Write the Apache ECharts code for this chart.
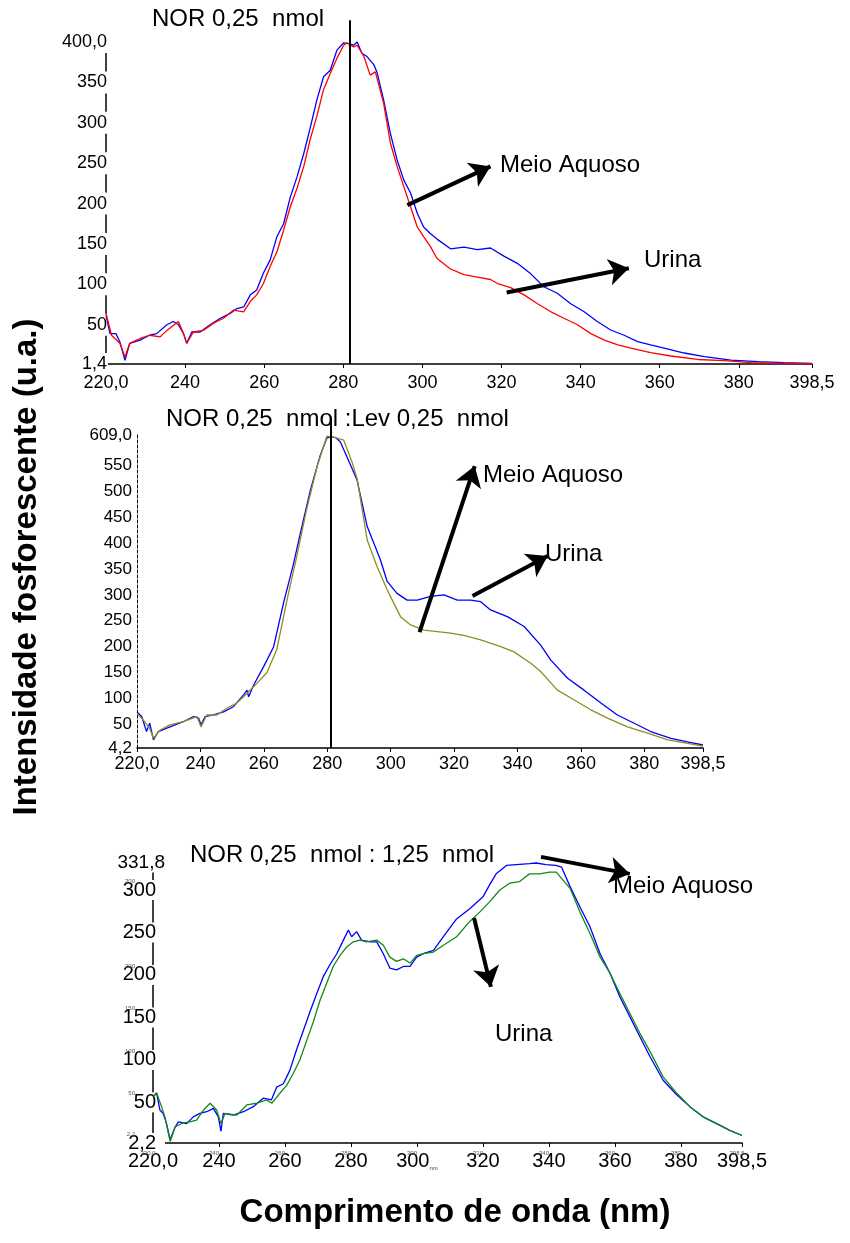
<!DOCTYPE html>
<html>
<head>
<meta charset="utf-8">
<script src="https://cdn.jsdelivr.net/npm/echarts@6.0.0/dist/echarts.min.js"></script>
<style>
html, body { margin: 0; padding: 0; background: #fff; }
#chart { width: 850px; height: 1243px; }
</style>
</head>
<body>
<div id="chart"></div>
<script>
var FONT = '"Liberation Sans", Arial, sans-serif';

// eixos
var xTicks = [220, 240, 260, 280, 300, 320, 340, 360, 380, 398.5];
var p1YTicks = [1.4, 50, 100, 150, 200, 250, 300, 350, 400];
var p2YTicks = [4.2, 50, 100, 150, 200, 250, 300, 350, 400, 450, 500, 550, 609];
var p3YTicks = [2.2, 50, 100, 150, 200, 250, 300, 331.8];
var p3SmallYTicks = [2.2, 50, 100, 150, 200, 300];

// NOR 0,25 nmol
var p1Aquoso = [[220,62],[221,39],[222.5,39],[223.5,29],[224.8,6],[226,27],[228.6,31],[231,37],[232.8,39],[235.4,50],[237,54],[238.3,50],[239.6,39],[240.4,27],[241.7,41],[243.8,41],[246.3,50],[248.9,58],[251.4,64],[253.1,70],[254.8,72],[256.5,87],[258.1,93],[259.8,114],[261.5,130],[263.2,159],[264.9,175],[266.6,208],[268.3,233],[270,262],[271.6,293],[273.3,328],[275,357],[276.7,365],[278.4,390],[280.1,399],[281.3,398],[282.6,396],[283.5,400],[284.7,386],[286,382],[287.7,372],[288.5,363],[290.2,328],[291.9,287],[293.6,254],[295.3,229],[297,213],[298.7,188],[300.3,171],[302,163],[303.7,156],[307.1,144],[310.5,146],[313.9,143],[317.2,145],[320.6,135],[324,126],[327.4,113],[330.7,97],[334.1,89],[337.5,76],[340.9,66],[344.2,54],[347.6,43.5],[351,37],[354.4,29],[357.7,25],[361.1,21],[366.2,15],[371.3,10.5],[378,6.3],[384.8,4.3],[391.5,3],[398.5,2.2]];
var p1Urina = [[220,64],[221.4,37],[223.5,27],[224.8,10],[226,27],[228.6,33],[231,37],[233.7,35],[235.4,43],[238.3,54],[239.6,39],[240.4,27],[242.1,41],[244.6,43],[247.2,52],[249.7,58],[252.2,68],[254.8,66],[256.5,79],[258.1,87],[259.8,101],[261.5,122],[263.2,140],[264.9,167],[266.6,196],[268.3,219],[270,246],[271.6,279],[273.3,308],[275,341],[276.7,361],[278.4,380],[280.1,396],[280.9,399],[282.6,394],[283.5,396],[285.2,382],[286.8,359],[288.1,363],[290.2,324],[291.9,275],[293.6,246],[295.3,221],[297,196],[298.7,171],[300.3,159],[302,147],[303.7,132],[307.1,119],[310.5,112],[313.9,109],[317.2,106],[319,101],[322.3,96],[325.7,87],[329.1,76],[332.5,66],[335.8,58],[339.2,50],[342.6,39],[346,31],[349.4,25],[352.7,21],[357.7,15.4],[362.8,11.3],[369.6,7],[376.3,5.5],[383.1,3],[391.5,2.2],[398.5,1.4]];

// NOR 0,25 nmol : Lev 0,25 nmol
var p2Aquoso = [[220,74],[221.5,65],[223,36],[224,52],[225.2,20],[226.7,36],[230.4,45],[234.6,55],[237.8,65],[239.4,62],[240.2,49],[241.5,65],[244.1,68],[247.3,74],[250.4,84],[253.6,107],[254.7,116],[255.2,103],[256.8,126],[259.9,161],[263.1,200],[266.2,284],[269.4,361],[271.5,419],[274.7,503],[277.8,570],[279.9,603],[281,606],[282.6,604],[284.1,596],[286.2,567],[289.4,522],[292.6,432],[294.7,400],[296.8,367],[298.9,326],[302,303],[305.2,290],[308.4,290],[312.6,297],[316.8,300],[321,290],[325.2,290],[328.4,287],[331.5,271],[336.8,258],[342.1,239],[347.3,203],[350.5,174],[355.8,139],[361,116],[366.3,91],[371.5,68],[376.8,52],[382,36],[388.4,23],[393.6,16],[398.5,10]];
var p2Urina = [[220,71],[222,58],[224,42],[225.2,23],[227.3,39],[230.4,49],[234.6,55],[238.9,65],[240.2,45],[242,68],[245.2,68],[248.3,81],[251.5,91],[254.7,110],[257.8,129],[261,150],[264.1,195],[267.3,290],[270.4,375],[273.6,468],[276.8,548],[279.9,607],[282,605],[285.2,599],[287.8,557],[289.4,525],[292.6,406],[295.7,355],[298.9,310],[300.5,290],[303.1,258],[306.3,242],[310.5,232],[314.7,229],[318.9,226],[323.1,222],[328.4,213],[334.7,200],[338.9,190],[344.2,168],[347.3,152],[352.6,116],[357.9,97],[363.1,78],[368.4,62],[374.7,45],[381,33],[387.4,20],[393.7,13],[398.5,8]];

// NOR 0,25 nmol : 1,25 nmol
var p3Aquoso = [[220,57],[221.1,61],[222.1,41],[223.1,37],[224.1,25],[225.2,6],[226.7,21],[227.7,27],[230.2,25],[232.2,33],[234.2,37],[236.3,39],[238.3,43],[239.8,33],[240.6,16],[241.3,37],[244.3,35],[247.4,39],[250.4,45],[253.4,55],[255.9,53],[257.5,68],[259.5,72],[261.5,88],[263.5,112],[265.6,135],[267.6,157],[269.6,178],[271.6,198],[273.6,212],[275.7,225],[277.7,241],[279.2,253],[280.2,245],[281.7,251],[283.2,241],[285.8,239],[287.8,239],[289.8,225],[291.8,208],[293.8,206],[295.9,210],[297.9,210],[299.9,221],[301.9,225],[305,229],[308,245],[312,266],[316,278],[320,292],[322,306],[324,319],[327.1,329],[330.1,330],[334.1,331],[336.1,331.8],[339.1,330],[342.1,329],[343.8,327],[346.4,304],[349.4,280],[352.4,257],[355.5,225],[358.5,202],[361.5,174],[364.5,151],[367.6,127],[370.6,104],[374.6,76],[378.7,59],[382.7,45],[386.7,33],[390.8,25],[394.8,17],[398.5,11]];
var p3Urina = [[220,57],[221.1,61],[222.6,45],[223.6,33],[225.2,4],[226.7,21],[229.2,26],[231.2,27],[233.2,29],[235.3,41],[237.3,49],[239.3,41],[240.6,25],[241.8,37],[245.4,35],[248.4,47],[251.4,49],[254.4,53],[256,49],[258.5,61],[260.5,70],[262.5,84],[264.5,100],[266.6,123],[268.6,145],[270.6,170],[272.6,190],[274.6,210],[276.7,223],[278.7,233],[280.7,239],[282.7,241],[284.7,239],[287.8,241],[289.8,235],[291.8,221],[293.8,216],[295.9,219],[297.9,214],[299.9,223],[301.9,225],[305,227],[308,235],[312,245],[316,263],[319,274],[322,286],[325.1,300],[328.1,308],[331.1,310],[334.1,319],[337.2,319],[340.2,321],[342.2,321],[344.2,312],[346.4,302],[349.4,274],[352.4,249],[355.5,221],[358.5,202],[361.5,178],[364.5,155],[367.6,131],[370.6,110],[374.6,80],[378.7,61],[382.7,45],[386.7,33],[390.8,25],[394.8,17],[398.5,11]];

// setas e linha vertical (em unidades dos eixos)
var p1Peak = [[281.6, 1.4], [281.6, 427]];
var p1Arrows = [[[296.2, 198], [317.2, 246]], [[321.3, 90], [352.2, 120]]];
var p2Peak = [[281.2, 4.2], [281.2, 642]];
var p2Arrows = [[[309.1, 228], [326.5, 549]], [[325.8, 298], [349.5, 375]]];
var p3Arrows = [[[337.6, 339], [364.5, 319]], [[317.3, 267], [322.4, 186]]];

function endFmt(ticks) {
	return function(v) {
		if (v === ticks[0] || v === ticks[ticks.length - 1]) {
			return v.toFixed(1).replace('.', ',');
		}
		return String(v);
	};
}

var mychart = echarts.init(document.getElementById('chart'), null, { renderer: 'canvas' });

function xAxisFor(grid, fontSize, margin) {
	return {
		type: 'value', gridIndex: grid, min: 220, max: 398.5, position: 'bottom',
		axisLine: { lineStyle: { color: '#000', width: 1.5 } },
		axisTick: { show: true, length: 4, customValues: xTicks, lineStyle: { color: '#000' } },
		splitLine: { show: false },
		axisLabel: {
			customValues: xTicks, formatter: endFmt(xTicks), color: '#000',
			fontFamily: FONT, fontSize: fontSize, margin: margin
		}
	};
}

function linha(name, data, color, xi) {
	return {
		name: name, type: 'line', data: data, xAxisIndex: xi, yAxisIndex: xi,
		symbol: 'none', clip: false, animation: false, silent: true,
		lineStyle: { color: color, width: 1.3 }
	};
}

function setas(arrows, xi) {
	return {
		type: 'lines', coordinateSystem: 'cartesian2d', xAxisIndex: xi, yAxisIndex: xi,
		clip: false, animation: false, silent: true, z: 5,
		symbol: ['none', 'arrow'], symbolSize: [1, 20],
		lineStyle: { color: '#000', width: 4, opacity: 1, curveness: 0 },
		data: arrows.map(function(a) { return { coords: a }; })
	};
}

function pico(coords, xi) {
	return {
		type: 'lines', coordinateSystem: 'cartesian2d', xAxisIndex: xi, yAxisIndex: xi,
		clip: false, animation: false, silent: true, z: 4,
		symbol: 'none',
		lineStyle: { color: '#000', width: 2, opacity: 1 },
		data: [{ coords: coords }]
	};
}

function texto(str, left, top, size, weight) {
	return {
		type: 'text', left: left, top: top, silent: true,
		style: { text: str, fill: '#000', font: (weight || 'normal') + ' ' + size + 'px ' + FONT }
	};
}

option = {
	backgroundColor: '#fff',
	animation: false,
	grid: [
		{ left: 106, top: 42, width: 706, height: 322, outerBoundsMode: 'none' },
		{ left: 137, top: 435, width: 566, height: 313, outerBoundsMode: 'none' },
		{ left: 153, top: 863, width: 589, height: 280, outerBoundsMode: 'none' }
	],
	xAxis: [
		xAxisFor(0, 18, 10),
		xAxisFor(1, 18, 7),
		(function() {
			var a = xAxisFor(2, 20, 8);
			a.axisLabel.formatter = function(v) {
				if (v === 300) return '300{s|nm}';
				return endFmt(xTicks)(v);
			};
			a.axisLabel.rich = { s: { fontSize: 6, color: '#444', fontFamily: FONT, verticalAlign: 'bottom', padding: [10, 0, 0, 0] } };
			return a;
		})(),
		{
			type: 'value', gridIndex: 2, min: 220, max: 398.5, position: 'bottom', z: 3,
			axisLine: { show: false }, axisTick: { show: false }, splitLine: { show: false },
			axisLabel: {
				customValues: xTicks, formatter: endFmt(xTicks), color: '#555',
				fontFamily: FONT, fontSize: 6, margin: 7, padding: [0, 10, 0, 0]
			}
		}
	],
	yAxis: [
		{
			type: 'value', gridIndex: 0, min: 1.4, max: 400, position: 'left',
			axisLine: { show: true, lineStyle: { color: '#000', width: 1.5 } },
			axisTick: { show: false }, splitLine: { show: false },
			axisLabel: {
				customValues: p1YTicks, formatter: endFmt(p1YTicks), color: '#000',
				fontFamily: FONT, fontSize: 18, margin: -2,
				backgroundColor: '#fff', padding: [2, 1, 2, 1]
			}
		},
		{
			type: 'value', gridIndex: 1, min: 4.2, max: 609, position: 'left',
			axisLine: { show: true, lineStyle: { color: '#000', width: 1, type: [3, 2] } },
			axisTick: { show: false }, splitLine: { show: false },
			axisLabel: {
				customValues: p2YTicks, formatter: endFmt(p2YTicks), color: '#000',
				fontFamily: FONT, fontSize: 17, margin: 5
			}
		},
		{
			type: 'value', gridIndex: 2, min: 2.2, max: 331.8, position: 'left',
			axisLine: { show: true, lineStyle: { color: '#000', width: 1.5 } },
			axisTick: { show: false }, splitLine: { show: false },
			axisLabel: {
				customValues: p3YTicks, color: '#000',
				fontFamily: FONT, fontSize: 20, margin: -12,
				backgroundColor: '#fff',
				formatter: function(v) {
					if (v === 331.8) return '{m|331,8}';
					return '{n|' + endFmt(p3YTicks)(v) + '}';
				},
				rich: {
					m: { fontSize: 19, fontFamily: FONT, color: '#000' },
					n: { fontSize: 20, fontFamily: FONT, color: '#000', padding: [0, 9, 0, 0] }
				}
			}
		},
		{
			type: 'value', gridIndex: 2, min: 2.2, max: 331.8, position: 'left', z: 3,
			axisLine: { show: false }, axisTick: { show: false }, splitLine: { show: false },
			axisLabel: {
				customValues: p3SmallYTicks, color: '#555',
				formatter: function(v) { return v === p3SmallYTicks[0] ? '2,2' : String(v); },
				fontFamily: FONT, fontSize: 6, margin: 18, verticalAlign: 'bottom', padding: [0, 0, 6, 0]
			}
		}
	],
	series: [
		linha('Meio Aquoso', p1Aquoso, '#0000ff', 0),
		linha('Urina', p1Urina, '#ff0000', 0),
		pico(p1Peak, 0),
		setas(p1Arrows, 0),
		linha('Meio Aquoso', p2Aquoso, '#0000ff', 1),
		linha('Urina', p2Urina, '#8f8f1f', 1),
		pico(p2Peak, 1),
		setas(p2Arrows, 1),
		linha('Meio Aquoso', p3Aquoso, '#0000ff', 2),
		linha('Urina', p3Urina, '#138a13', 2),
		setas(p3Arrows, 2)
	],
	graphic: [
		texto('NOR 0,25  nmol', 152, 7, 24),
		texto('NOR 0,25  nmol :Lev 0,25  nmol', 166, 407, 24),
		texto('NOR 0,25  nmol : 1,25  nmol', 190, 843, 24),
		texto('Meio Aquoso', 500, 153, 24),
		texto('Urina', 644, 248, 24),
		texto('Meio Aquoso', 483, 463, 24),
		texto('Urina', 545, 542, 24),
		texto('Meio Aquoso', 613, 874, 24),
		texto('Urina', 495, 1022, 24),
		{
			type: 'text', x: 27, y: 567, rotation: Math.PI / 2, silent: true,
			style: { text: 'Intensidade fosforescente (u.a.)', fill: '#000', align: 'center', verticalAlign: 'middle', font: 'bold 33px ' + FONT }
		},
		{
			type: 'text', x: 455, y: 1213, silent: true,
			style: { text: 'Comprimento de onda (nm)', fill: '#000', align: 'center', verticalAlign: 'middle', font: 'bold 33px ' + FONT }
		}
	]
};
mychart.setOption(option);
</script>
</body>
</html>
